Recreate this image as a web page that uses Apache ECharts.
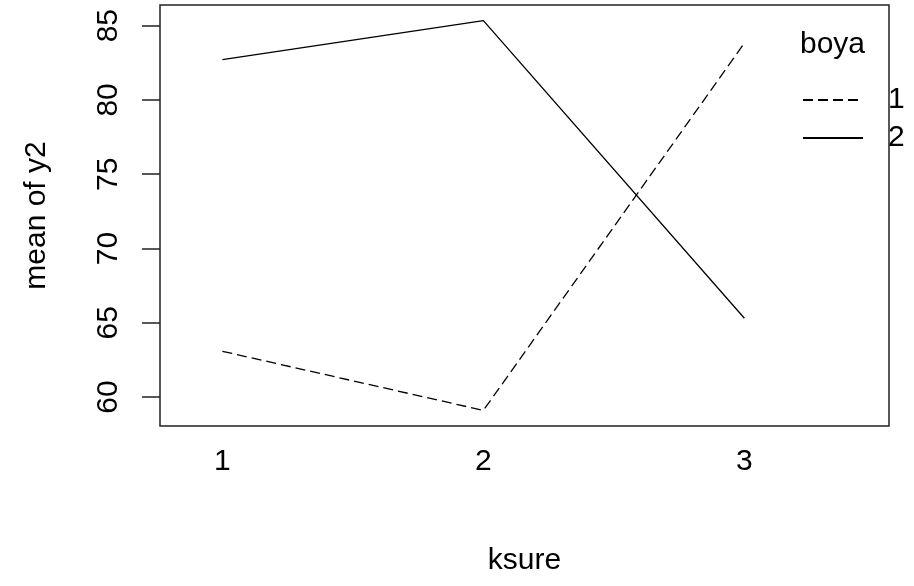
<!DOCTYPE html>
<html>
<head>
<meta charset="utf-8">
<script src="https://cdn.jsdelivr.net/npm/echarts@6/dist/echarts.min.js"></script>
<style>
html,body{margin:0;padding:0;background:#fff;}
#c{width:914px;height:586px;}
</style>
</head>
<body>
<div id="c"></div>
<script>
var ksure = [1, 2, 3];
var boya1 = [63.08, 59.10, 83.83];
var boya2 = [82.72, 85.34, 65.30];
var yTicks = [60, 65, 70, 75, 80, 85];
var xTicks = [1, 2, 3];
var legendTitle = 'boya';

function pairs(xs, ys) { return xs.map(function (x, i) { return [x, ys[i]]; }); }

var FONT = "'Liberation Sans', Arial, sans-serif";
var FS = 30;

var chart = echarts.init(document.getElementById('c'), null, {renderer: 'canvas'});
chart.setOption({
  animation: false,
  backgroundColor: '#fff',
  textStyle: {fontFamily: FONT, color: '#000'},
  grid: {left: 160, top: 5, right: 25, bottom: 160, show: true, borderColor: '#222', borderWidth: 1.5, backgroundColor: 'transparent'},
  xAxis: {
    type: 'value', min: 0.761, max: 3.554,
    name: 'ksure', nameLocation: 'middle', nameGap: 120,
    nameTextStyle: {fontSize: FS, fontFamily: FONT, color: '#000'},
    axisLine: {show: false},
    axisTick: {show: false},
    splitLine: {show: false},
    axisLabel: {customValues: xTicks, fontSize: FS, fontFamily: FONT, color: '#000', margin: 21}
  },
  yAxis: {
    type: 'value', min: 58.05, max: 86.39,
    name: 'mean of y2', nameLocation: 'middle', nameGap: 108, nameRotate: 90,
    nameTextStyle: {fontSize: FS, fontFamily: FONT, color: '#000'},
    axisLine: {show: false},
    axisTick: {show: true, customValues: yTicks, length: 18, lineStyle: {color: '#222', width: 1.5}},
    splitLine: {show: false},
    axisLabel: {customValues: yTicks, rotate: 90, fontSize: FS, fontFamily: FONT, color: '#000', margin: 36}
  },
  legend: {
    orient: 'vertical', left: 797, top: 80,
    itemWidth: 60, itemHeight: 20, itemGap: 8,
    itemStyle: {opacity: 0},
    textStyle: {fontSize: FS, fontFamily: FONT, color: '#000', padding: [6, 0, 0, 20]},
    data: ['1', '2']
  },
  graphic: [{
    type: 'text', left: 800, top: 30,
    style: {text: legendTitle, font: FS + "px 'Liberation Sans', Arial, sans-serif", fill: '#000'}
  }],
  series: [
    {name: '1', type: 'line', data: pairs(ksure, boya1), symbol: 'none', showSymbol: false,
     lineStyle: {color: '#000', width: 1.3, type: [10, 5]}, itemStyle: {color: '#000'}},
    {name: '2', type: 'line', data: pairs(ksure, boya2), symbol: 'none', showSymbol: false,
     lineStyle: {color: '#000', width: 1.3, type: 'solid'}, itemStyle: {color: '#000'}}
  ]
});
</script>
</body>
</html>
